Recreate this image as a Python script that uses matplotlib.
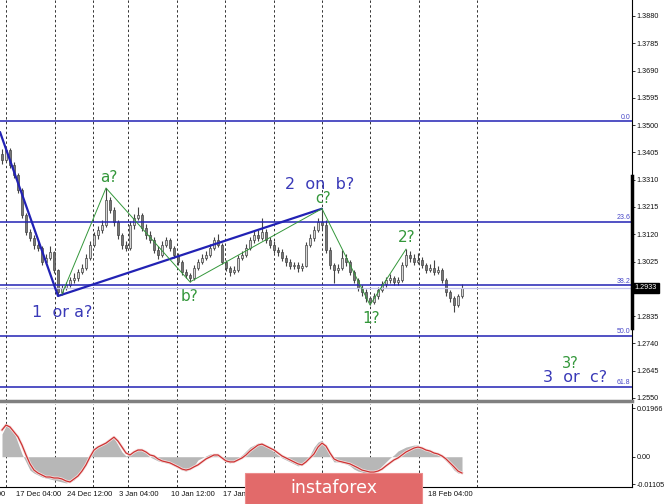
import numpy as np
import matplotlib
matplotlib.use("Agg")
import matplotlib.pyplot as plt
import matplotlib.transforms as mtrans
import matplotlib.patheffects as pe
from matplotlib.patches import Rectangle

# H4 candles
first_open = 1.3400
close = [1.3379, 1.3413, 1.3361, 1.3326, 1.3274, 1.3187, 1.3128, 1.3107, 1.3083, 1.3072,
         1.3023, 1.3037, 1.3058, 1.2996, 1.2919, 1.2933, 1.2943, 1.2961, 1.2968, 1.2989,
         1.3003, 1.3037, 1.3083, 1.3117, 1.3135, 1.3152, 1.3239, 1.3205, 1.3163, 1.3117,
         1.3083, 1.3072, 1.3152, 1.3177, 1.3187, 1.3142, 1.3117, 1.3100, 1.3065, 1.3048,
         1.3083, 1.3100, 1.3072, 1.3048, 1.3023, 1.2989, 1.2978, 1.2968, 1.3003, 1.3023,
         1.3037, 1.3048, 1.3072, 1.3100, 1.3083, 1.3023, 1.3003, 1.2989, 1.2996, 1.3037,
         1.3048, 1.3072, 1.3100, 1.3117, 1.3107, 1.3128, 1.3100, 1.3083, 1.3065, 1.3058,
         1.3037, 1.3023, 1.3010, 1.3013, 1.3003, 1.3010, 1.3083, 1.3107, 1.3135, 1.3163,
         1.3152, 1.3065, 1.3013, 1.2996, 1.3003, 1.3037, 1.3023, 1.2989, 1.2961, 1.2933,
         1.2919, 1.2898, 1.2884, 1.2905, 1.2926, 1.2947, 1.2961, 1.2968, 1.2954, 1.2961,
         1.3013, 1.3048, 1.3037, 1.3023, 1.3030, 1.3013, 1.2996, 1.3003, 1.2989, 1.2996,
         1.2961, 1.2919, 1.2898, 1.2874, 1.2905, 1.2933]
high = [1.3418, 1.3425, 1.3420, 1.3372, 1.3335, 1.3280, 1.3195, 1.3140, 1.3118, 1.3095,
        1.3080, 1.3050, 1.3080, 1.3062, 1.3000, 1.2945, 1.2955, 1.2972, 1.2985, 1.3000,
        1.3015, 1.3050, 1.3095, 1.3128, 1.3150, 1.3170, 1.3281, 1.3250, 1.3215, 1.3170,
        1.3125, 1.3095, 1.3165, 1.3190, 1.3215, 1.3195, 1.3155, 1.3130, 1.3110, 1.3078,
        1.3095, 1.3112, 1.3108, 1.3080, 1.3055, 1.3030, 1.2998, 1.2985, 1.3012, 1.3035,
        1.3050, 1.3060, 1.3085, 1.3112, 1.3120, 1.3090, 1.3030, 1.3010, 1.3008, 1.3048,
        1.3060, 1.3085, 1.3112, 1.3130, 1.3135, 1.3178, 1.3140, 1.3112, 1.3095, 1.3075,
        1.3068, 1.3048, 1.3035, 1.3025, 1.3022, 1.3020, 1.3092, 1.3120, 1.3148, 1.3178,
        1.3209, 1.3170, 1.3075, 1.3020, 1.3015, 1.3065, 1.3050, 1.3030, 1.2995, 1.2968,
        1.2945, 1.2930, 1.2905, 1.2915, 1.2938, 1.2958, 1.2972, 1.2980, 1.2975, 1.2970,
        1.3025, 1.3068, 1.3060, 1.3050, 1.3055, 1.3040, 1.3020, 1.3015, 1.3030, 1.3008,
        1.3002, 1.2968, 1.2925, 1.2905, 1.2912, 1.2947]
low = [1.3365, 1.3370, 1.3350, 1.3315, 1.3262, 1.3175, 1.3118, 1.3095, 1.3070, 1.3060,
       1.3012, 1.3015, 1.3030, 1.2985, 1.2905, 1.2910, 1.2925, 1.2935, 1.2950, 1.2958,
       1.2980, 1.2995, 1.3030, 1.3075, 1.3105, 1.3125, 1.3145, 1.3195, 1.3150, 1.3105,
       1.3068, 1.3060, 1.3065, 1.3140, 1.3170, 1.3130, 1.3105, 1.3090, 1.3055, 1.3035,
       1.3040, 1.3075, 1.3062, 1.3038, 1.3012, 1.2978, 1.2966, 1.2954, 1.2960, 1.2995,
       1.3015, 1.3030, 1.3040, 1.3065, 1.3075, 1.3015, 1.2992, 1.2975, 1.2980, 1.2988,
       1.3030, 1.3040, 1.3065, 1.3090, 1.3098, 1.3100, 1.3090, 1.3072, 1.3055, 1.3045,
       1.3028, 1.3010, 1.2998, 1.2998, 1.2990, 1.2992, 1.3005, 1.3075, 1.3098, 1.3128,
       1.3140, 1.3055, 1.3000, 1.2950, 1.2985, 1.2995, 1.3010, 1.2978, 1.2950, 1.2922,
       1.2905, 1.2885, 1.2874, 1.2876, 1.2895, 1.2918, 1.2938, 1.2950, 1.2945, 1.2945,
       1.2955, 1.3005, 1.3025, 1.3012, 1.3015, 1.3002, 1.2985, 1.2988, 1.2978, 1.2980,
       1.2950, 1.2905, 1.2885, 1.2850, 1.2865, 1.2898]

# MACD window
macd_main = [0.0092, 0.0124, 0.0116, 0.0100, 0.0055, 0.0011, -0.0021, -0.0054, -0.0066, -0.0074,
             -0.0082, -0.0086, -0.0090, -0.0094, -0.0098, -0.0102, -0.0106, -0.0102, -0.0094, -0.0074,
             -0.0054, -0.0025, 0.0007, 0.0027, 0.0043, 0.0051, 0.0063, 0.0075, 0.0075, 0.0047,
             0.0019, 0.0003, 0.0011, 0.0023, 0.0031, 0.0027, 0.0015, -0.0001, -0.0009, -0.0017,
             -0.0021, -0.0025, -0.0029, -0.0037, -0.0045, -0.0054, -0.0058, -0.0050, -0.0037, -0.0013,
             -0.0005, 0.0003, 0.0011, 0.0011, 0.0003, -0.0009, -0.0021, -0.0025, -0.0017, -0.0005,
             0.0007, 0.0023, 0.0039, 0.0047, 0.0055, 0.0055, 0.0047, 0.0035, 0.0019, 0.0007,
             -0.0005, -0.0013, -0.0021, -0.0029, -0.0037, -0.0033, -0.0021, 0.0007, 0.0039, 0.0059,
             0.0067, 0.0035, 0.0003, -0.0021, -0.0021, -0.0025, -0.0029, -0.0037, -0.0050, -0.0058,
             -0.0062, -0.0070, -0.0066, -0.0058, -0.0054, -0.0037, -0.0021, -0.0005, 0.0007, 0.0023,
             0.0031, 0.0039, 0.0043, 0.0047, 0.0047, 0.0035, 0.0027, 0.0019, 0.0015, 0.0007,
             -0.0001, -0.0017, -0.0033, -0.0054, -0.0066, -0.0066]
macd_signal = [0.0108, 0.0128, 0.0120, 0.0100, 0.0080, 0.0047, 0.0007, -0.0029, -0.0054, -0.0066,
               -0.0074, -0.0082, -0.0082, -0.0086, -0.0086, -0.0090, -0.0098, -0.0102, -0.0090, -0.0078,
               -0.0058, -0.0033, -0.0001, 0.0027, 0.0039, 0.0047, 0.0055, 0.0067, 0.0079, 0.0063,
               0.0039, 0.0015, 0.0007, 0.0019, 0.0027, 0.0027, 0.0019, 0.0007, 0.0003, -0.0009,
               -0.0017, -0.0021, -0.0025, -0.0033, -0.0041, -0.0050, -0.0054, -0.0050, -0.0041, -0.0033,
               -0.0021, -0.0009, -0.0001, 0.0007, 0.0007, -0.0005, -0.0017, -0.0021, -0.0021, -0.0013,
               -0.0005, 0.0007, 0.0023, 0.0035, 0.0047, 0.0051, 0.0043, 0.0035, 0.0027, 0.0015,
               0.0003, -0.0005, -0.0013, -0.0021, -0.0029, -0.0033, -0.0021, -0.0005, 0.0011, 0.0039,
               0.0055, 0.0043, 0.0015, -0.0009, -0.0017, -0.0021, -0.0025, -0.0029, -0.0037, -0.0045,
               -0.0054, -0.0058, -0.0062, -0.0062, -0.0058, -0.0050, -0.0037, -0.0025, -0.0013, -0.0005,
               0.0007, 0.0019, 0.0027, 0.0035, 0.0039, 0.0035, 0.0027, 0.0023, 0.0015, 0.0011,
               0.0003, -0.0009, -0.0025, -0.0041, -0.0058, -0.0066]

price_ticks = [1.3880, 1.3785, 1.3690, 1.3595, 1.3500, 1.3405, 1.3310, 1.3215,
               1.3120, 1.3025, 1.2835, 1.2740, 1.2645, 1.2550]
last_price = 1.2933
range_bar = (1.2794, 1.3323)
macd_ticks = [0.01966, 0.0, -0.01105]

fib_levels = [1.3514, 1.3163, 1.2943, 1.2766, 1.2588]
fib_names = ["0.0", "23.6", "38.2", "50.0", "61.8"]

# separators (bar positions) and date labels
grid_bars = [0.875, 13.18, 22.7, 31.6, 43.7, 55.8, 67.9, 80.0, 92.05, 104.15, 118.7]
date_bars = [-10.5, 3.5, 16.25, 29.25, 42.25, 55.25, 106.5]
date_names = ["10 Dec 12:00", "17 Dec 04:00", "24 Dec 12:00", "3 Jan 04:00",
              "10 Jan 12:00", "17 Jan 20:00", "18 Feb 04:00"]

# wave counts
blue_wave_x = [-0.5, 14, 80]
blue_wave_y = [1.3476, 1.2905, 1.3209]
green_abc_x = [15, 26, 47, 80]
green_abc_y = [1.2912, 1.3281, 1.2954, 1.3209]
green_12_x = [80, 92, 101]
green_12_y = [1.3209, 1.2874, 1.3068]

BLUE = "#2222b4"
GREEN = "#33973a"
LBLUE = "#3a3ab8"
AXFONT = "Liberation Sans"

fig = plt.figure(figsize=(6.65, 5.04), dpi=100)
ax = fig.add_axes([0, 103 / 504, 632 / 665, 401 / 504])
ax2 = fig.add_axes([0, 17 / 504, 632 / 665, 83 / 504])

n = len(close)
xs = np.arange(n)
c = np.array(close)
o = np.r_[first_open, c[:-1]]
h = np.array(high)
l = np.array(low)

for a in (ax, ax2):
    a.spines["top"].set_visible(False)
    a.spines["left"].set_visible(False)
    a.spines["right"].set_color("black")
    a.spines["right"].set_linewidth(0.8)
    a.yaxis.tick_right()
    a.tick_params(axis="y", length=2, width=0.6, labelsize=5.2, pad=1.2, colors="#111111")
    for g in grid_bars:
        a.axvline(g, color="#333333", lw=0.7, ls=(0, (2.5, 2.5)), zorder=0)

ax.set_ylim(1.25394, 1.39357)
ax.set_xticks([])
ax.set_yticks(price_ticks)
ax.set_yticklabels(["%.4f" % t for t in price_ticks], family=AXFONT)
ax.spines["bottom"].set_color("#808080")
ax.spines["bottom"].set_linewidth(2.5)

# candles
ax.vlines(xs, l, h, color="#444444", lw=0.8, zorder=2)
bull = c >= o
body_lo = np.minimum(o, c)
body_h = np.maximum(np.abs(c - o), 0.00015)
ax.bar(xs[bull], body_h[bull], bottom=body_lo[bull], width=0.55,
       color="#d6d6d6", edgecolor="#444444", lw=0.5, zorder=3)
ax.bar(xs[~bull], body_h[~bull], bottom=body_lo[~bull], width=0.55,
       color="#777777", edgecolor="#444444", lw=0.5, zorder=3)

# fibo levels
yx = mtrans.blended_transform_factory(ax.transAxes, ax.transData)
for lev, name in zip(fib_levels, fib_names):
    ax.axhline(lev, color=BLUE, lw=1.1, zorder=4)
    ax.text(0.997, lev + 0.0002, name, transform=yx, ha="right", va="bottom",
            fontsize=5, color="#4848c8", zorder=5, family=AXFONT)
ax.axhline(last_price, color="#c4c4ee", lw=0.9, zorder=4)

# waves
ax.plot(blue_wave_x, blue_wave_y, color=BLUE, lw=1.6, zorder=6, solid_capstyle="round")
ax.plot(green_abc_x, green_abc_y, color=GREEN, lw=0.7, zorder=6)
ax.plot(green_12_x, green_12_y, color=GREEN, lw=0.7, zorder=6)

ax.text(26.75, 1.3316, "a?", color=GREEN, fontsize=11, ha="center", va="center")
ax.text(46.75, 1.2902, "b?", color=GREEN, fontsize=11, ha="center", va="center")
ax.text(80.25, 1.3244, "c?", color=GREEN, fontsize=10.5, ha="center", va="center")
ax.text(92.25, 1.2828, "1?", color=GREEN, fontsize=11, ha="center", va="center")
ax.text(101.25, 1.3110, "2?", color=GREEN, fontsize=11, ha="center", va="center")
ax.text(142.0, 1.2670, "3?", color=GREEN, fontsize=10.5, ha="center", va="center")
ax.text(79.5, 1.3295, "2  on  b?", color=LBLUE, fontsize=11.5, ha="center", va="center")
ax.text(15.0, 1.2849, "1  or a?", color=LBLUE, fontsize=11.5, ha="center", va="center")
ax.text(143.25, 1.2621, "3  or  c?", color=LBLUE, fontsize=11.5, ha="center", va="center")

# right axis marks
ax.plot([1, 1], list(range_bar), transform=yx, color="black", lw=2.5, clip_on=False, zorder=7)
ax.text(1.004, last_price, "%.4f" % last_price, transform=yx, ha="left", va="center",
        fontsize=5.2, color="white", clip_on=False, zorder=8, family=AXFONT,
        bbox=dict(facecolor="black", edgecolor="black", pad=1.4))

# MACD
ax2.set_ylim(-0.01224, 0.0213)
ax2.fill_between(xs, 0, macd_main, color="#b7b7b7", lw=0, zorder=2)
ax2.plot(xs, macd_signal, color="#cc3333", lw=0.9, zorder=3,
         path_effects=[pe.Stroke(linewidth=2.0, foreground="#f6dede"), pe.Normal()])
ax2.set_yticks(macd_ticks)
ax2.set_yticklabels(["0.01966", "0.00", "-0.01105"], family=AXFONT)
ax2.spines["bottom"].set_color("black")
ax2.spines["bottom"].set_linewidth(0.8)
ax2.set_xticks([])
xy2 = mtrans.blended_transform_factory(ax2.transData, ax2.transAxes)
for db, dn in zip(date_bars, date_names):
    ax2.text(db, -0.05, dn, transform=xy2, ha="left", va="top", fontsize=5.5,
             color="#111111", family=AXFONT, clip_on=False)

for a in (ax, ax2):
    a.set_xlim(-0.5, 157.5)

# banner
fig.add_artist(Rectangle((245 / 665, 0), (422 - 245) / 665, 31 / 504,
                         transform=fig.transFigure, facecolor="#e26a6a",
                         edgecolor="#ec8c8c", lw=0.8, zorder=10))
fig.text(333.5 / 665, 1 - 488 / 504, "instaforex", color="white", fontsize=12.5,
         ha="center", va="center", zorder=11)

fig.savefig("out.png", dpi=100)
